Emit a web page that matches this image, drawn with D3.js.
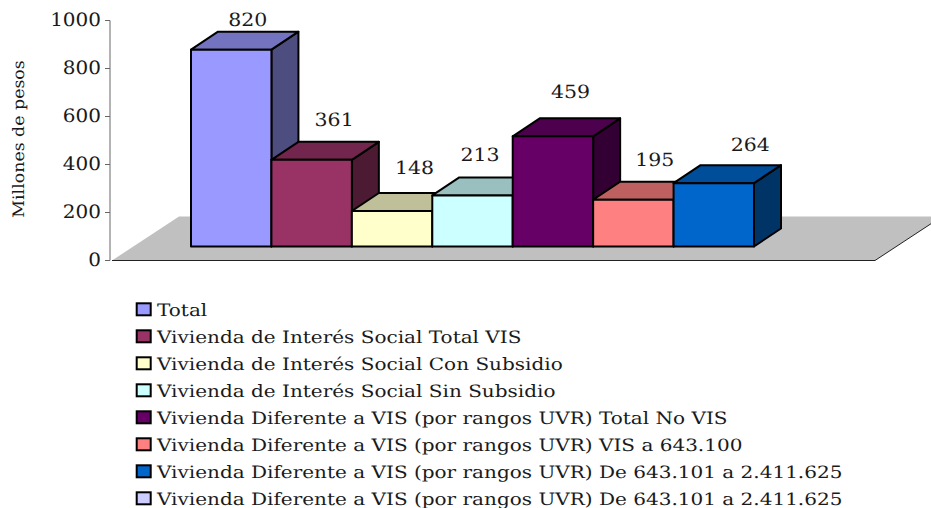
<!DOCTYPE html>
<html><head><meta charset="utf-8">
<script src="https://cdnjs.cloudflare.com/ajax/libs/d3/7.8.5/d3.min.js"></script>
<style>html,body{margin:0;padding:0;background:#fff;overflow:hidden}svg{display:block}
text{font-family:"DejaVu Serif",serif;fill:#1a1a1a;text-rendering:geometricPrecision}</style></head><body>
<script>
const categories = ["Total","Vivienda de Interés Social Total VIS","Vivienda de Interés Social Con Subsidio","Vivienda de Interés Social Sin Subsidio","Vivienda Diferente a VIS (por rangos UVR) Total No VIS","Vivienda Diferente a VIS (por rangos UVR) VIS a 643.100","Vivienda Diferente a VIS (por rangos UVR) De 643.101 a 2.411.625","Vivienda Diferente a VIS (por rangos UVR) De 643.101 a 2.411.625"];
const values = [820,361,148,213,459,195,264];
const colors = ["#9999FF","#993366","#FFFFCC","#CCFFFF","#660066","#FF8080","#0066CC","#CCCCFF"];
const ticks = [0,200,400,600,800,1000];
const labelNudgeX = [3,9,9,-6,4,8,23];
const labelNudgeY = [-6,-16,-19,-16,-20,-16,-14];

const W=931,H=508;
const svg=d3.select("body").append("svg").attr("width",W).attr("height",H);
const y=d3.scaleLinear().domain([0,1000]).range([260.5,20.5]);
const x=d3.scaleBand().domain(d3.range(values.length)).range([191,754]).padding(0);
const dx=27, dy=18, floorDy=14;
const baseY=y(0)-floorDy;

// floor
const fx0=112,fx1=875,fdx=67,fdy=44;
svg.append("path").attr("d",`M${fx0},260.5L${fx1},260.5L${fx1+fdx},${260.5-fdy}L${fx0+fdx},${260.5-fdy}Z`).attr("fill","#C0C0C0");
svg.append("path").attr("d",`M${fx0},260.5L${fx1},260.5L${fx1+fdx},${260.5-fdy}`).attr("fill","none").attr("stroke","#222").attr("stroke-width",1);

// axis
const ax=svg.append("g").attr("transform","translate(110,0)").call(d3.axisLeft(y).offset(0).tickValues(ticks).tickSize(5).tickPadding(3).tickFormat(d3.format("d")));
ax.selectAll("path,line").attr("stroke","#666");
ax.selectAll("text").style("font-size","18.5px").attr("fill","#1a1a1a").attr("x",0).attr("transform","translate(-9,0) scale(1.08,1)");

svg.append("text").attr("transform","translate(23.5,139) rotate(-90) scale(1.1,1)").attr("text-anchor","middle").attr("font-size","15.8px").text("Millones de pesos");

// bars
const shade=(c,k)=>{const r=d3.rgb(c);return d3.rgb(r.r*k,r.g*k,r.b*k).formatHex();};
const g=svg.append("g").attr("stroke","#000").attr("stroke-width",2).attr("stroke-linejoin","round");
values.forEach((v,i)=>{
  const x0=x(i),x1=x0+x.bandwidth(),top=y(v)-floorDy;
  g.append("path").attr("d",`M${x1},${top}L${x1+dx},${top-dy}L${x1+dx},${baseY-dy}L${x1},${baseY}Z`).attr("fill",shade(colors[i],.5));
  g.append("path").attr("d",`M${x0},${top}L${x0+dx},${top-dy}L${x1+dx},${top-dy}L${x1},${top}Z`).attr("fill",shade(colors[i],.75));
  g.append("rect").attr("x",x0).attr("y",top).attr("width",x.bandwidth()).attr("height",baseY-top).attr("fill",colors[i]);
});
values.forEach((v,i)=>{
  const lx=x(i)+x.bandwidth()/2+dx/2+labelNudgeX[i], ly=y(v)-floorDy-dy+labelNudgeY[i];
  svg.append("text").attr("transform",`translate(${lx},${ly}) scale(1.12,1)`)
    .attr("text-anchor","middle").attr("font-size","18.3px").text(v);
});

// legend
const leg=svg.selectAll("g.l").data(categories).join("g").attr("class","l").attr("transform",(d,i)=>`translate(136.7,${303.3+i*27})`);
leg.append("rect").attr("width",14).attr("height",12).attr("fill",(d,i)=>colors[i]).attr("stroke","#000").attr("stroke-width",2);
leg.append("text").attr("transform","translate(20.3,12.3) scale(1.177,1)").attr("font-size","17px").text(d=>d);
</script></body></html>
